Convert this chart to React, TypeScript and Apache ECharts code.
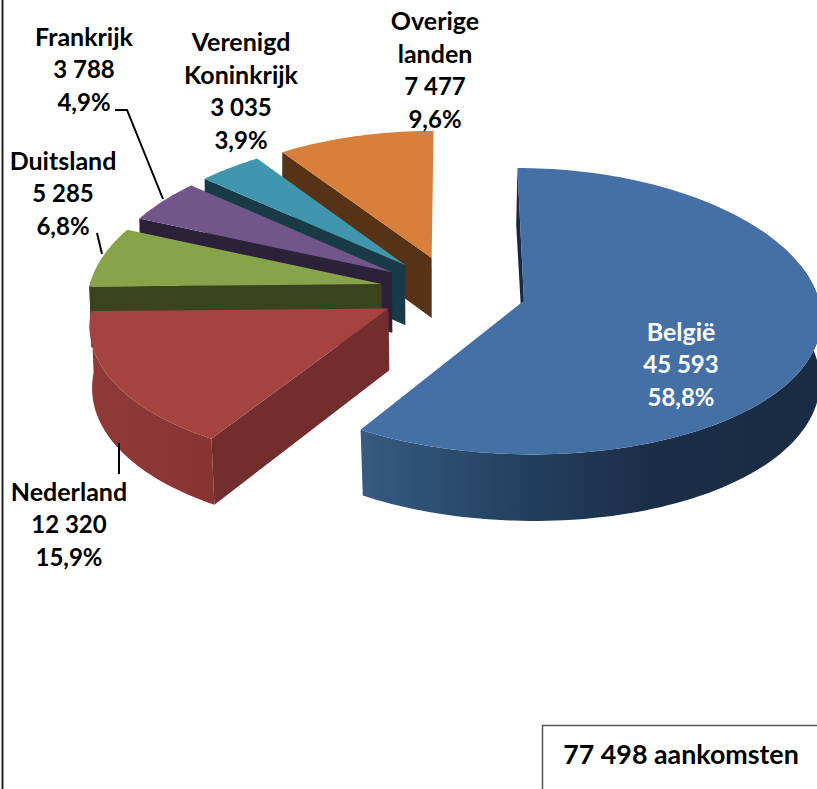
import React, { useEffect, useRef } from "react";
import * as echarts from "echarts";

const categories = ["België", "Nederland", "Duitsland", "Frankrijk", "Verenigd Koninkrijk", "Overige landen"];
const values = [45593, 12320, 5285, 3788, 3035, 7477];
const valueLabels = ["45 593", "12 320", "5 285", "3 788", "3 035", "7 477"];
const percentLabels = ["58,8%", "15,9%", "6,8%", "4,9%", "3,9%", "9,6%"];
const nameLines = [["België"], ["Nederland"], ["Duitsland"], ["Frankrijk"], ["Verenigd", "Koninkrijk"], ["Overige", "landen"]];
const totalLabel = "77 498 aankomsten";

const topColors = ["#4570A5", "#A54341", "#88A44A", "#735689", "#4096AE", "#D87F3C"];
const wallColors = ["#172A42", "#722D2C", "#3A431D", "#2B2138", "#193B47", "#563316"];
const sideStops: [number, string][][] = [
  [[0, "#365A82"], [0.35, "#24405F"], [0.62, "#1B2E47"], [1, "#1A2C44"]],
  [[0, "#8F3A38"], [1, "#873432"]],
  [[0, "#3A431D"], [1, "#3A431D"]],
  [[0, "#2B2138"], [1, "#2B2138"]],
  [[0, "#193B47"], [1, "#193B47"]],
  [[0, "#563316"], [1, "#563316"]],
];
const labelColors = ["#FFFFFF", "#000000", "#000000", "#000000", "#000000", "#000000"];
const labelCenters = [[681, 331], [69, 491], [63, 160], [84, 36], [241, 41], [435, 20]];
const leaders = [
  [[115, 110], [127, 110], [163, 199]],
  [[97, 233], [102, 254]],
  [[119, 443], [119, 474]],
];

const CX = 453, CY = 291, RX = 293, RY = 141, PERSP_X = 0.1, PERSP_Y = 0.073, EXPLODE = 0.25;
const NAME_FONT = '700 25px Lato, "Open Sans", sans-serif';
const NUM_FONT = '700 24px Lato, "Open Sans", sans-serif';
const TOTAL_FONT = '700 26.8px Lato, "Open Sans", sans-serif';
const LINE = 32.8;

const total = values.reduce((a, b) => a + b, 0);
const starts: number[] = [];
values.reduce((acc, v, i) => { starts[i] = acc; return acc + (v / total) * 360; }, 0);
const rad = (d: number) => (d * Math.PI) / 180;

function project(wx: number, wy: number): number[] {
  return [CX + (RX * wx) / (1 - PERSP_X * wy), CY + (RY * wy) / (1 - PERSP_Y * wy)];
}
function lower(p: number[]): number[] {
  return [
    CX + (p[0] - CX) * 0.995 + 0.01 * (p[1] - 260),
    p[1] + 60 + 0.033 * (p[1] - 256),
  ];
}

function renderItem(params: any) {
  const i = values.length - 1 - params.dataIndex;
  const a0 = starts[i];
  const span = (values[i] / total) * 360;
  const a1 = a0 + span;
  const mid = rad(a0 + span / 2);
  const ox = EXPLODE * Math.sin(mid);
  const oy = -EXPLODE * Math.cos(mid);
  const apex = project(ox, oy);
  const rim = (deg: number) => project(ox + Math.sin(rad(deg)), oy - Math.cos(rad(deg)));
  const arc = (from: number, to: number) => {
    const n = Math.max(2, Math.ceil((to - from) / 1.5));
    const pts: number[][] = [];
    for (let k = 0; k <= n; k++) pts.push(rim(from + ((to - from) * k) / n));
    return pts;
  };
  const children: any[] = [];
  const startRim = rim(a0);
  children.push({
    type: "polygon",
    shape: { points: [apex, startRim, lower(startRim), lower(apex)] },
    style: { fill: wallColors[i] },
  });
  const sa = Math.max(a0, 75);
  const sb = Math.min(a1, 272);
  if (sb > sa) {
    const upper = arc(sa, sb);
    children.push({
      type: "polygon",
      shape: { points: [...upper, ...upper.slice().reverse().map(lower)] },
      style: {
        fill: {
          type: "linear", x: 0, y: 0, x2: 1, y2: 0,
          colorStops: sideStops[i].map(([offset, color]) => ({ offset, color })),
        },
      },
    });
  }
  children.push({
    type: "polygon",
    shape: { points: [apex, ...arc(a0, a1)] },
    style: { fill: topColors[i] },
  });
  return { type: "group", children };
}

function buildGraphics() {
  const els: any[] = [];
  els.push({ type: "line", shape: { x1: 2.5, y1: 0, x2: 2.5, y2: 789 }, style: { stroke: "#222222", lineWidth: 2 }, z: 5 });
  els.push({ type: "polyline", shape: { points: [[542.5, 789], [542.5, 725.5], [817, 725.5]] }, style: { stroke: "#555555", lineWidth: 1.5, fill: "none" }, z: 5 });
  els.push({
    type: "text", x: 681, y: 754,
    style: { text: totalLabel, font: TOTAL_FONT, fill: "#000000", textAlign: "center", textVerticalAlign: "middle" }, z: 6,
  });
  leaders.forEach((points) =>
    els.push({ type: "polyline", shape: { points }, style: { stroke: "#000000", lineWidth: 2, fill: "none" }, z: 5 })
  );
  categories.forEach((_, i) => {
    const names = nameLines[i];
    const lines = [...names, valueLabels[i], percentLabels[i]];
    lines.forEach((text, k) =>
      els.push({
        type: "text", x: labelCenters[i][0], y: labelCenters[i][1] + k * LINE,
        style: { text, font: k < names.length ? NAME_FONT : NUM_FONT, fill: labelColors[i], textAlign: "center", textVerticalAlign: "middle" }, z: 6,
      })
    );
  });
  return els;
}

export default function App() {
  const ref = useRef<HTMLDivElement>(null);
  useEffect(() => {
    const chart = echarts.init(ref.current!, undefined, { renderer: "svg" });
    chart.setOption({
      animation: false,
      backgroundColor: "#FFFFFF",
      series: [{
        type: "custom",
        coordinateSystem: "none",
        silent: true,
        clip: false,
        renderItem,
        data: values.slice().reverse(),
      }],
      graphic: { elements: buildGraphics() },
    });
    return () => chart.dispose();
  }, []);
  return <div ref={ref} style={{ position: "fixed", left: 0, top: 0, width: 817, height: 789 }} />;
}
